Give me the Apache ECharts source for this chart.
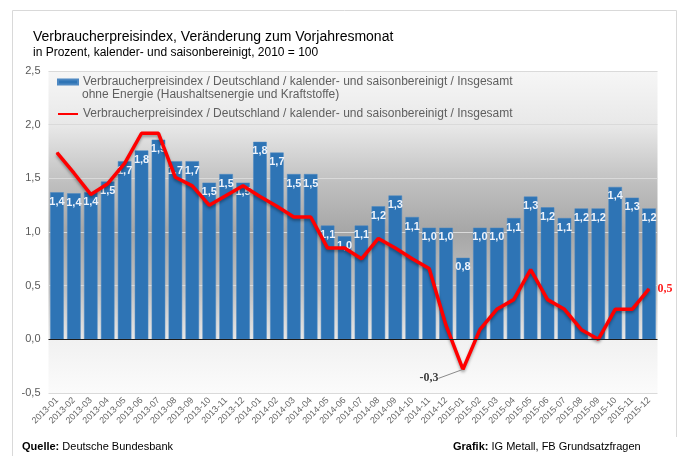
<!DOCTYPE html>
<html>
<head>
<meta charset="utf-8">
<script src="https://cdn.jsdelivr.net/npm/echarts@6/dist/echarts.min.js"></script>
<style>
  html, body { margin: 0; padding: 0; background: #fff; }
  #chart { width: 679px; height: 456px; }
</style>
</head>
<body>
<div id="chart"></div>
<script>
// months shown on the x axis
const months = [
  '2013-01', '2013-02', '2013-03', '2013-04', '2013-05', '2013-06',
  '2013-07', '2013-08', '2013-09', '2013-10', '2013-11', '2013-12',
  '2014-01', '2014-02', '2014-03', '2014-04', '2014-05', '2014-06',
  '2014-07', '2014-08', '2014-09', '2014-10', '2014-11', '2014-12',
  '2015-01', '2015-02', '2015-03', '2015-04', '2015-05', '2015-06',
  '2015-07', '2015-08', '2015-09', '2015-10', '2015-11', '2015-12'
];

// core index (ohne Energie), bars
const ohneEnergie = [
  1.37, 1.36, 1.37, 1.47, 1.66, 1.76, 1.86, 1.66, 1.66, 1.46, 1.54, 1.46,
  1.84, 1.74, 1.54, 1.54, 1.06, 0.96, 1.06, 1.24, 1.34, 1.14, 1.04, 1.04,
  0.76, 1.04, 1.04, 1.13, 1.33, 1.23, 1.13, 1.22, 1.22, 1.42, 1.32, 1.22
];

// headline index, red line
const insgesamt = [
  1.74, 1.55, 1.35, 1.45, 1.64, 1.92, 1.92, 1.51, 1.43, 1.25, 1.34, 1.43,
  1.33, 1.24, 1.14, 1.14, 0.85, 0.85, 0.75, 0.94, 0.85, 0.75, 0.66, 0.13,
  -0.28, 0.09, 0.28, 0.37, 0.65, 0.37, 0.28, 0.09, 0.0, 0.28, 0.28, 0.47
];

const yTicks = [-0.5, 0, 0.5, 1.0, 1.5, 2.0, 2.5];

const barName = 'Verbraucherpreisindex / Deutschland / kalender- und saisonbereinigt / Insgesamt ohne Energie (Haushaltsenergie und Kraftstoffe)';
const lineName = 'Verbraucherpreisindex / Deutschland / kalender- und saisonbereinigt / Insgesamt';

const fmt = v => v.toFixed(1).replace('.', ',');
const font = 'Liberation Sans, Arial, sans-serif';

const lineData = insgesamt.map((v, i) => {
  if (i === 24) {
    return {
      value: v,
      label: {
        show: true, position: 'left', distance: 4, formatter: fmt(v),
        color: '#404040', fontFamily: 'Liberation Serif, serif', fontWeight: 'bold', fontSize: 12
      }
    };
  }
  if (i === 35) {
    return {
      value: v,
      label: {
        show: true, position: 'right', distance: 8, formatter: fmt(v),
        color: '#ff2020', fontFamily: 'Liberation Serif, serif', fontWeight: 'bold', fontSize: 12
      },
      labelLine: { show: false }
    };
  }
  return v;
});

const chart = echarts.init(document.getElementById('chart'));

chart.setOption({
  animation: false,
  textStyle: { fontFamily: font },
  title: {
    text: 'Verbraucherpreisindex, Veränderung zum Vorjahresmonat',
    subtext: 'in Prozent, kalender- und saisonbereinigt, 2010 = 100',
    left: 28,
    top: 30,
    padding: [0, 5],
    itemGap: 3,
    textStyle: { fontFamily: font, fontSize: 14, fontWeight: 'normal', color: '#000' },
    subtextStyle: { fontFamily: font, fontSize: 12, color: '#000' }
  },
  legend: {
    orient: 'vertical',
    left: 52,
    top: 71,
    itemGap: 20,
    itemWidth: 20,
    itemHeight: 5,
    textStyle: { fontFamily: font, fontSize: 12, color: '#5f5f5f' },
    data: [
      { name: barName, icon: 'rect' },
      { name: lineName, icon: 'path://M0,0 L20,0 L20,2 L0,2 Z', itemStyle: { color: '#ff0000' } }
    ],
    formatter: name => name === barName
      ? 'Verbraucherpreisindex / Deutschland / kalender- und saisonbereinigt / Insgesamt'
      : name
  },
  graphic: [
    {
      type: 'polyline',
      shape: { points: [[12.5, 456], [12.5, 10.5], [676.5, 10.5], [676.5, 437]] },
      style: { stroke: '#d9d9d9', lineWidth: 1, fill: null },
      silent: true
    },
    {
      type: 'text', left: 82, top: 89,
      style: {
        text: 'ohne Energie (Haushaltsenergie und Kraftstoffe)',
        font: '12px ' + font, fill: '#5f5f5f'
      }
    },
    {
      type: 'text', left: 22, top: 441,
      style: {
        text: '{b|Quelle:} Deutsche Bundesbank',
        font: '11px ' + font, fill: '#000',
        rich: { b: { fontWeight: 'bold', fontSize: 11, fontFamily: font } }
      }
    },
    {
      type: 'text', left: 453, top: 441,
      style: {
        text: '{b|Grafik:} IG Metall, FB Grundsatzfragen',
        font: '11px ' + font, fill: '#000',
        rich: { b: { fontWeight: 'bold', fontSize: 11, fontFamily: font } }
      }
    }
  ],
  grid: {
    left: 48.5,
    right: 21.5,
    top: 71,
    bottom: 63,
    show: true,
    borderWidth: 0,
    backgroundColor: new echarts.graphic.LinearGradient(0, 0, 0, 1, [
      { offset: 0, color: '#f6f6f6' },
      { offset: 0.17, color: '#e8e8e8' },
      { offset: 0.35, color: '#bfbfbf' },
      { offset: 0.5, color: '#a6a6a6' },
      { offset: 0.68, color: '#c2c2c2' },
      { offset: 0.83, color: '#e6e6e6' },
      { offset: 0.835, color: '#f1f1f1' },
      { offset: 1, color: '#fbfbfb' }
    ])
  },
  xAxis: {
    type: 'category',
    data: months,
    axisLine: { show: false },
    axisTick: { show: false },
    axisLabel: {
      rotate: 45,
      interval: 0,
      margin: 6,
      fontSize: 9,
      color: '#666',
      fontFamily: font
    }
  },
  yAxis: {
    type: 'value',
    min: yTicks[0],
    max: yTicks[yTicks.length - 1],
    interval: 0.5,
    axisLine: { show: false },
    axisTick: { show: false },
    axisLabel: {
      margin: 8,
      fontSize: 11,
      color: '#595959',
      fontFamily: font,
      formatter: v => fmt(v)
    },
    splitLine: { lineStyle: { color: '#dadada', width: 1 } }
  },
  series: [
    {
      name: barName,
      type: 'bar',
      data: ohneEnergie,
      barCategoryGap: '20%',
      itemStyle: { color: '#2e74b5', borderColor: '#4d88c2', borderWidth: 0.5 },
      label: {
        show: true,
        position: 'insideTop',
        distance: 4,
        fontSize: 11,
        fontWeight: 'bold',
        color: '#eef3fb',
        fontFamily: font,
        formatter: p => fmt(p.value)
      },
      markLine: {
        silent: true,
        symbol: 'none',
        label: { show: false },
        lineStyle: { color: '#1a1a1a', width: 1, type: 'solid' },
        data: [{ yAxis: 0 }]
      }
    },
    {
      name: lineName,
      type: 'line',
      data: lineData,
      symbol: 'circle',
      symbolSize: 1,
      showSymbol: true,
      lineStyle: {
        color: '#ff0000',
        width: 3.5,
        shadowColor: 'rgba(0,0,0,0.35)',
        shadowBlur: 3,
        shadowOffsetY: 2
      },
      itemStyle: { color: '#ff0000' },
      labelLine: { show: true, smooth: 0.3, minTurnAngle: 180, lineStyle: { color: '#8a8a8a', width: 1 } },
      labelLayout: p => p.dataIndex === 24 ? { dx: -20, dy: 9 } : null,
      z: 3
    }
  ]
});
</script>
</body>
</html>
